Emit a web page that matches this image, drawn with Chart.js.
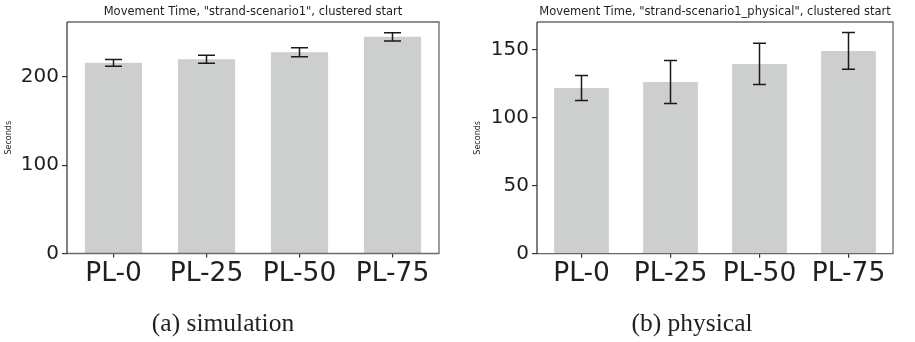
<!DOCTYPE html>
<html>
<head>
<meta charset="utf-8">
<script src="https://cdn.jsdelivr.net/npm/chart.js@4.4.1/dist/chart.umd.min.js"></script>
<style>
  html, body { margin: 0; padding: 0; background: #ffffff; }
  #wrap { position: relative; width: 915px; height: 342px; overflow: hidden; background: #fff; }
  canvas { position: absolute; top: 0; }
</style>
</head>
<body>
<div id="wrap">
  <canvas id="c1" width="458" height="342" style="left:0px"></canvas>
  <canvas id="c2" width="457" height="342" style="left:458px"></canvas>
</div>
<script>
// ---- data ----
const categories = ["PL-0", "PL-25", "PL-50", "PL-75"];
const simMeans = [216, 220, 228, 245.5];
const simErrors = [3.8, 4.5, 5.2, 4.7];
const physMeans = [122, 126.4, 139.7, 149.3];
const physErrors = [9.2, 15.8, 15.2, 13.5];
const simTicks = [0, 100, 200];
const physTicks = [0, 50, 100, 150];
const simTitle = 'Movement Time, "strand-scenario1", clustered start';
const physTitle = 'Movement Time, "strand-scenario1_physical", clustered start';
const simCaption = "(a) simulation";
const physCaption = "(b) physical";
const yLabel = "Seconds";

const BAR_COLOR = "#cdcfce";
const TEXT = "#1f1f1f";

function makeDecor(opts) {
  return {
    id: "decor",
    afterDatasetsDraw(chart) {
      const ctx = chart.ctx;
      const xs = chart.scales.x, ys = chart.scales.y;
      // error bars
      ctx.save();
      ctx.strokeStyle = "#1a1a1a";
      ctx.lineWidth = 1.5;
      opts.means.forEach((m, i) => {
        const x = xs.getPixelForValue(i);
        const yt = ys.getPixelForValue(m + opts.errors[i]);
        const yb = ys.getPixelForValue(m - opts.errors[i]);
        const h = opts.cap / 2;
        ctx.beginPath();
        ctx.moveTo(x, yt); ctx.lineTo(x, yb);
        ctx.moveTo(x - h, yt); ctx.lineTo(x + h, yt);
        ctx.moveTo(x - h, yb); ctx.lineTo(x + h, yb);
        ctx.stroke();
      });
      ctx.restore();
    },
    afterDraw(chart) {
      const ctx = chart.ctx;
      const a = chart.chartArea;
      ctx.save();
      // frame
      ctx.strokeStyle = "#6a6a6a";
      ctx.lineWidth = 1.3;
      ctx.beginPath();
      ctx.moveTo(a.left, a.top); ctx.lineTo(a.right, a.top);
      ctx.lineTo(a.right, a.bottom); ctx.lineTo(a.left, a.bottom);
      ctx.stroke();
      ctx.strokeStyle = "#2a2a2a";
      ctx.lineWidth = 1.2;
      ctx.beginPath();
      ctx.moveTo(a.left, a.top); ctx.lineTo(a.left, a.bottom);
      ctx.stroke();
      // title
      ctx.fillStyle = TEXT;
      ctx.font = "11.5px 'DejaVu Sans'";
      ctx.textAlign = "center";
      ctx.textBaseline = "alphabetic";
      ctx.fillText(opts.title, (a.left + a.right) / 2, 15);
      // y label
      ctx.save();
      ctx.translate(opts.ylabelX, (a.top + a.bottom) / 2);
      ctx.rotate(-Math.PI / 2);
      ctx.font = "8px 'DejaVu Sans'";
      ctx.textBaseline = "middle";
      ctx.fillText(yLabel, 0, 0);
      ctx.restore();
      // caption
      ctx.font = "25.5px 'Liberation Serif'";
      ctx.fillStyle = "#222";
      ctx.textAlign = "center";
      ctx.textBaseline = "alphabetic";
      ctx.fillText(opts.caption, opts.captionX, 331);
      ctx.restore();
    }
  };
}

function makeChart(id, cfg) {
  return new Chart(document.getElementById(id), {
    type: "bar",
    data: {
      labels: categories,
      datasets: [{
        data: cfg.means,
        backgroundColor: BAR_COLOR,
        borderWidth: 0,
        barPercentage: 0.615,
        categoryPercentage: 1.0
      }]
    },
    options: {
      responsive: false,
      animation: false,
      devicePixelRatio: 1,
      layout: { padding: { left: 0, right: cfg.padRight, top: 22, bottom: cfg.padBottom } },
      plugins: { legend: { display: false }, title: { display: false }, tooltip: { enabled: false } },
      scales: {
        x: {
          offset: true,
          border: { display: false },
          grid: { display: true, drawOnChartArea: false, drawTicks: true, tickLength: 4, color: "#333", lineWidth: 1.2, offset: false },
          ticks: { color: TEXT, font: { family: "'DejaVu Sans'", size: 26.5 }, padding: 1, maxRotation: 0, autoSkip: false },
          afterFit(s) { s.height = 40; }
        },
        y: {
          min: 0,
          max: cfg.ymax,
          border: { display: false },
          grid: { display: true, drawOnChartArea: false, drawTicks: true, tickLength: 5, color: "#333", lineWidth: 1.2 },
          ticks: { color: TEXT, font: { family: "'DejaVu Sans'", size: 20 }, padding: 3 },
          afterBuildTicks(s) { s.ticks = cfg.ticks.map(v => ({ value: v })); },
          afterFit(s) { s.width = cfg.yWidth; }
        }
      }
    },
    plugins: [makeDecor(cfg)]
  });
}

makeChart("c1", {
  means: simMeans, errors: simErrors, ticks: simTicks, ymax: 262.3,
  padRight: 19, padBottom: 48.5, yWidth: 67, cap: 17,
  title: simTitle, caption: simCaption, captionX: 223, ylabelX: 9
});
makeChart("c2", {
  means: physMeans, errors: physErrors, ticks: physTicks, ymax: 170.6,
  padRight: 22, padBottom: 48.3, yWidth: 79, cap: 13,
  title: physTitle, caption: physCaption, captionX: 234, ylabelX: 20
});
</script>
</body>
</html>
